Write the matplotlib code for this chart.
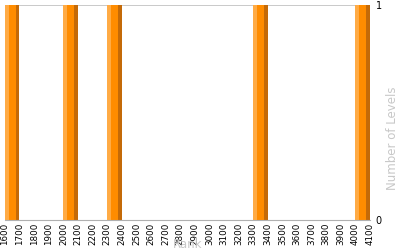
import matplotlib
matplotlib.use("Agg")
import matplotlib.pyplot as plt

# histogram bins (left edge of each rank bin) and their level counts
rank_bins = [1600, 2000, 2300, 3300, 4000]
levels = [1, 1, 1, 1, 1]
bin_width = 100
x_ticks = list(range(1600, 4200, 100))
y_ticks = [0, 1]


def getChart():
    fig = plt.figure(figsize=(4, 2.5), dpi=100)
    ax = fig.add_axes([5 / 400, 30 / 250, 365 / 400, 215 / 250])

    # three stripes per bar: light left, orange body, dark right
    light = [b for b in rank_bins]
    body = [b + bin_width * 0.26 for b in rank_bins]
    dark = [b + bin_width * 0.74 for b in rank_bins]
    ax.bar(light, levels, width=bin_width * 0.26, align="edge", color="#ffab45", linewidth=0)
    ax.bar(body, levels, width=bin_width * 0.48, align="edge", color="#ff8c00", linewidth=0)
    ax.bar(dark, levels, width=bin_width * 0.24, align="edge", color="#c46a08", linewidth=0)

    ax.set_xlim(1600, 4100)
    ax.set_ylim(0, 1)
    ax.set_xticks(x_ticks)
    ax.set_xticklabels([str(t) for t in x_ticks], rotation=90, fontsize=6.3)
    ax.set_yticks(y_ticks)
    ax.yaxis.tick_right()
    ax.tick_params(axis="both", length=0, pad=2)
    ax.tick_params(axis="y", labelsize=7, pad=4)

    for s in ["left", "right", "top"]:
        ax.spines[s].set_visible(False)
    ax.spines["bottom"].set_color("#b0b0b0")
    ax.axhline(1, color="#c0c0c0", linewidth=1.2, zorder=0)

    ax.set_xlabel("Rank", color="#c8c8c8", fontsize=8.5)
    ax.xaxis.set_label_coords(0.5, -0.082)
    ax.xaxis.label.set_va("top")
    ax.set_ylabel("Number of Levels", color="#c8c8c8", fontsize=8.5)
    ax.yaxis.set_label_position("right")
    ax.yaxis.set_label_coords(1.063, 0.38)
    ax.yaxis.label.set_va("center")

    fig.savefig("out.png", dpi=100)


if __name__ == "__main__":
    getChart()
